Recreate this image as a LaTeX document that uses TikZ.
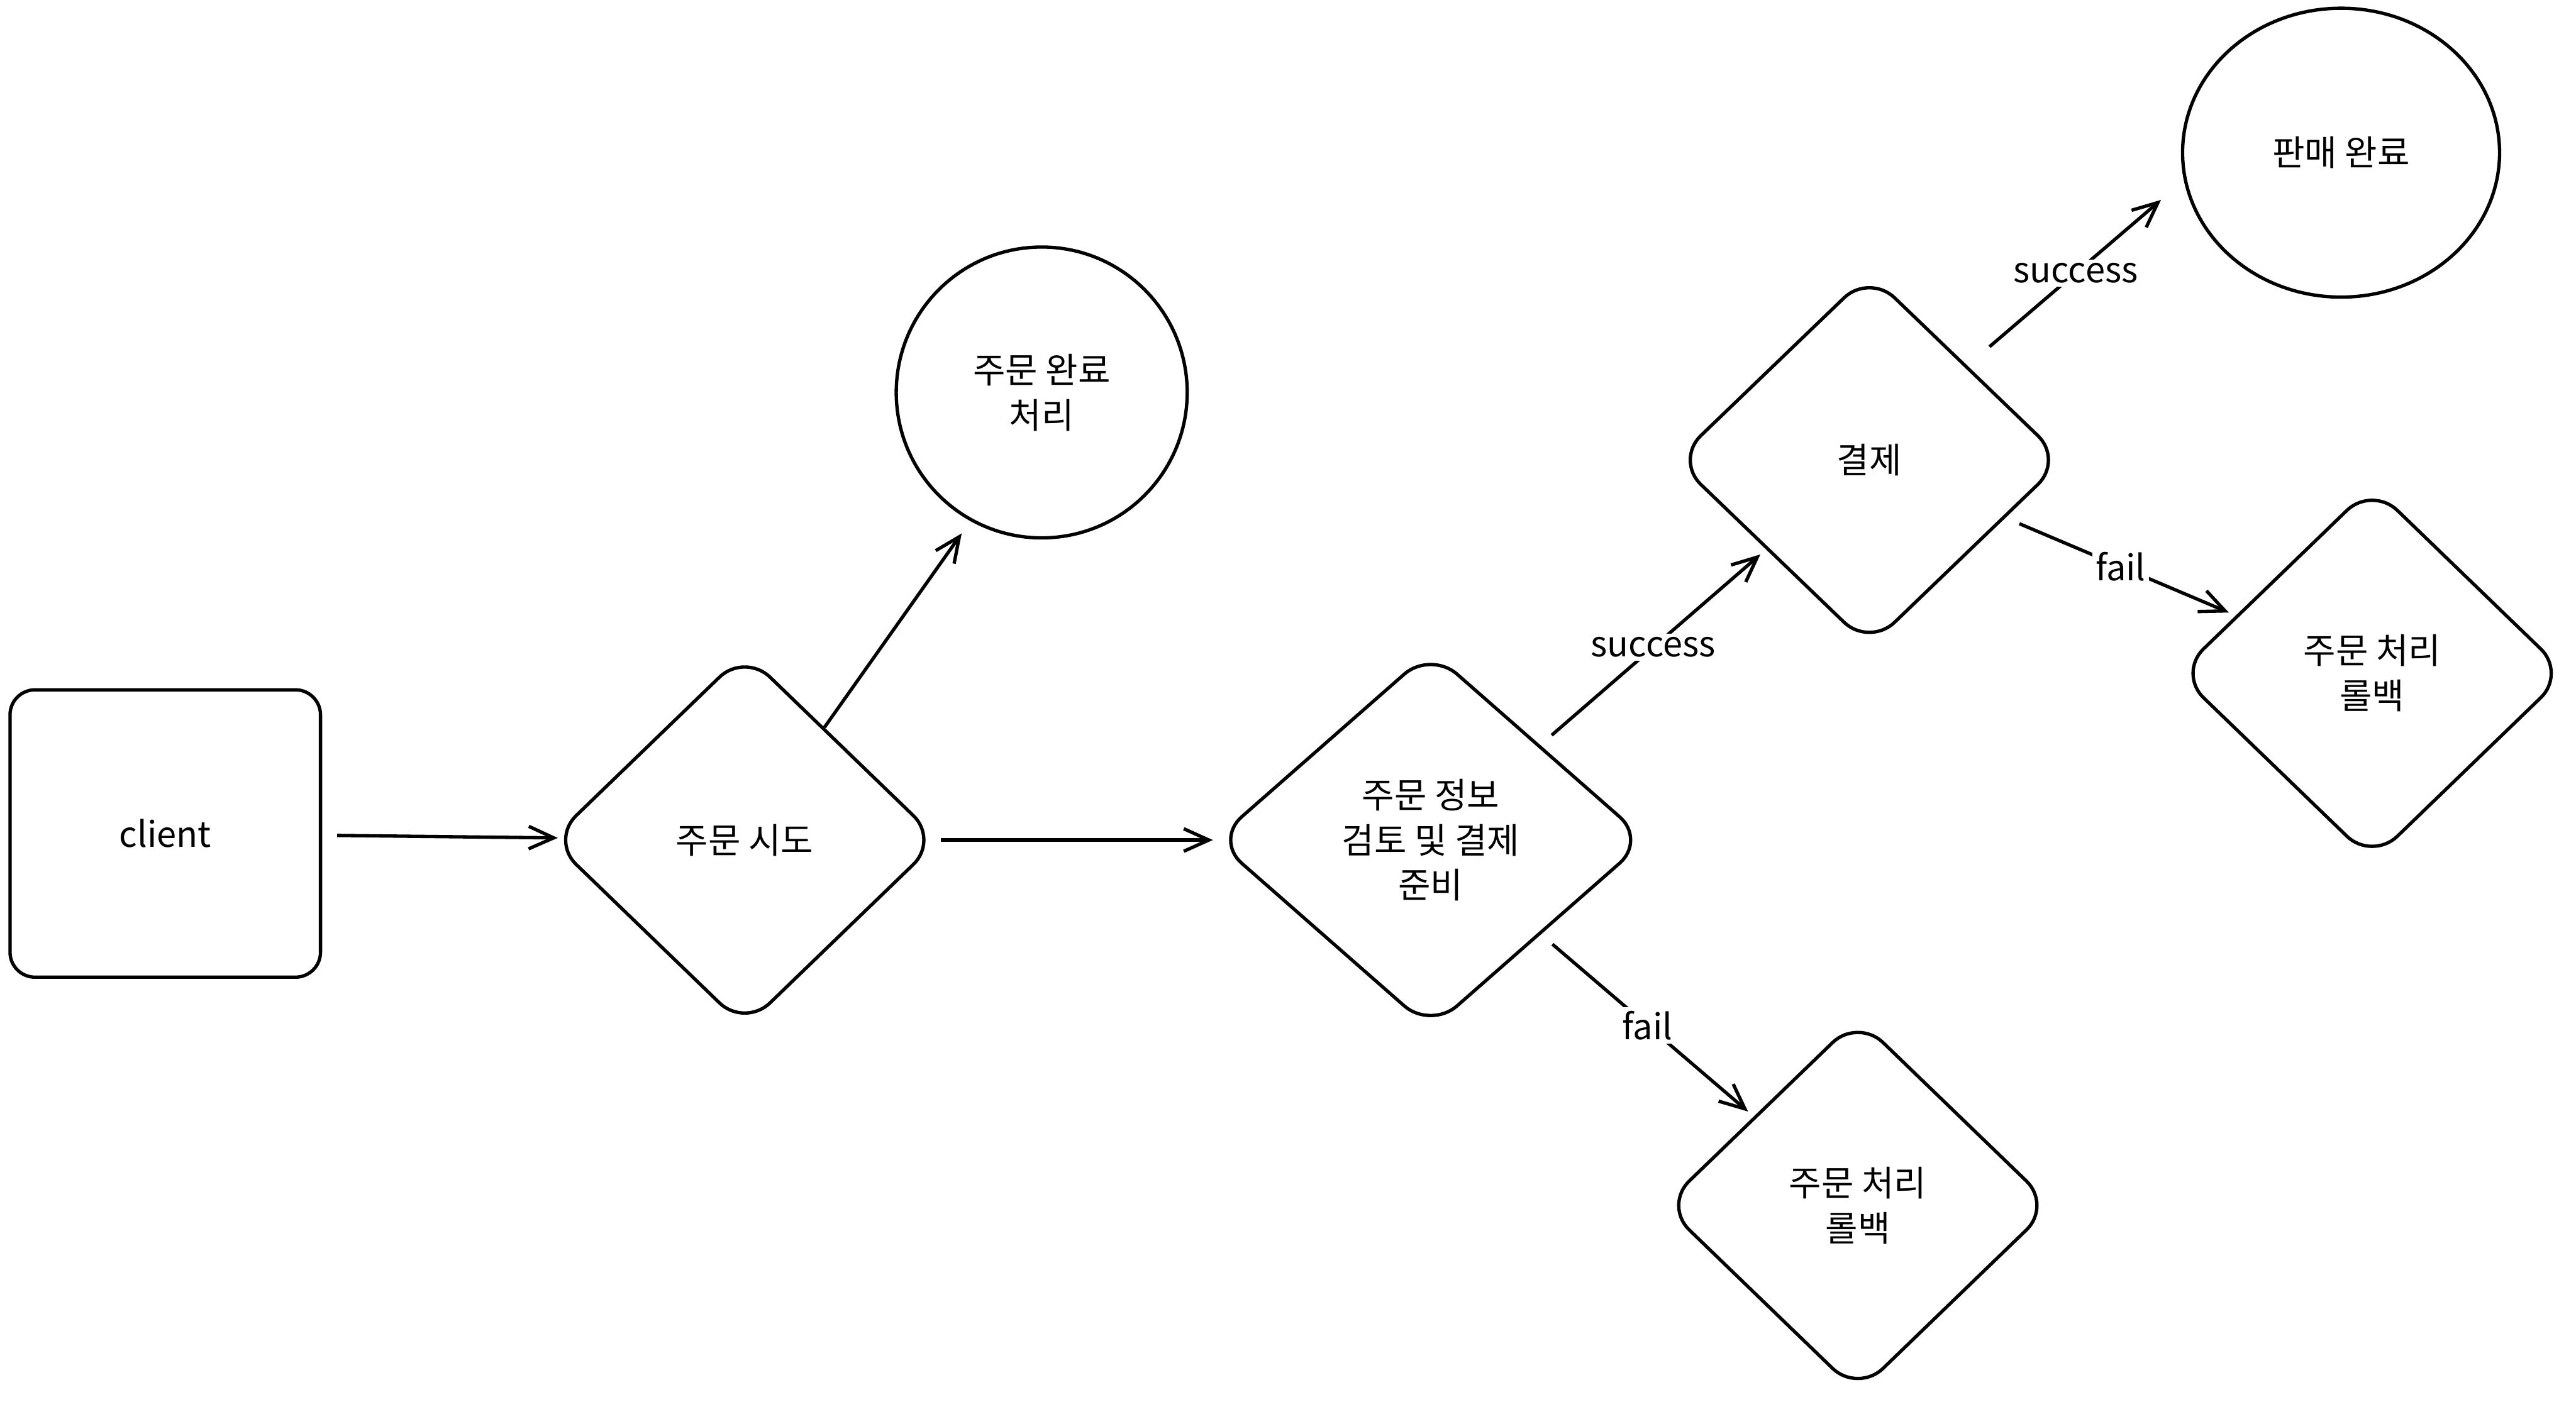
\documentclass[tikz,border=0pt]{standalone}
\usepackage{fontspec}
\setmainfont{Noto Sans CJK KR}
\usetikzlibrary{
    arrows.meta,
    positioning,
    shapes.geometric,
    calc
}
\tikzset{
    startbox/.style={
        rectangle,
        rounded corners=5mm,
        draw=black,
        line width=1.9pt,
        align=center,
        minimum width=6.2cm,
        minimum height=5.74cm
    },
    decision/.style={
        diamond,
        draw=black,
        line width=1.9pt,
        rounded corners=7mm,
        align=center,
        inner sep=0pt,
        minimum width=7.77cm,
        minimum height=7.51cm
    },
    endstate/.style={
        ellipse,
        draw=black,
        line width=1.9pt,
        align=center,
        inner sep=0pt,
        minimum width=5.81cm,
        minimum height=5.81cm
    },
    arrow/.style={
        -{Straight Barb[length=5mm, width=4.5mm]},
        line width=1.9pt
    },
    edgelabel/.style={
        fill=white,
        inner sep=2pt
    }
}

\begin{document}
\begin{tikzpicture}[font=\fontsize{20}{25.7}\selectfont]
\useasboundingbox[fill=white] (0,0) rectangle (51.44,28);

\node[startbox] (client) at (3.30,11.35) {client};
\node[decision, right=4.52cm of client, yshift=-1.3mm] (try) {주문 시도};
\node[decision, right=5.43cm of try, minimum width=8.63cm, minimum height=7.58cm] (check) {주문 정보\\검토 및 결제\\준비};
\node[endstate] (done) at ($(try)+(5.93,8.94)$) {주문 완료\\처리};
\node[decision, minimum height=7.48cm] (pay) at ($(check)+(8.76,7.59)$) {결제};
\node[decision] (rollB) at ($(check)+(8.53,-7.30)$) {주문 처리\\롤백};
\node[endstate, minimum width=6.33cm, minimum height=5.77cm] (sold) at ($(pay)+(9.42,6.14)$) {판매 완료};
\node[decision] (rollA) at ($(pay)+(10.04,-4.26)$) {주문 처리\\롤백};

\draw[arrow, shorten <=3mm, shorten >=-1.4mm] (client) -- (try);
\draw[arrow, shorten >=3mm] (try) -- (done.241);
\draw[arrow] (try) -- (check);
\draw[arrow, shorten <=3mm, shorten >=1.5mm] (check) -- node[edgelabel] {success} (pay);
\draw[arrow, shorten <=3mm, shorten >=1.5mm] (check) -- node[edgelabel] {fail} (rollB);
\draw[arrow, shorten <=5.8mm, shorten >=6mm] (pay.north east) -- node[edgelabel] {success} (sold.190);
\draw[arrow, shorten <=3mm, shorten >=1.5mm] (pay) -- node[edgelabel] {fail} (rollA);

\end{tikzpicture}
\end{document}
